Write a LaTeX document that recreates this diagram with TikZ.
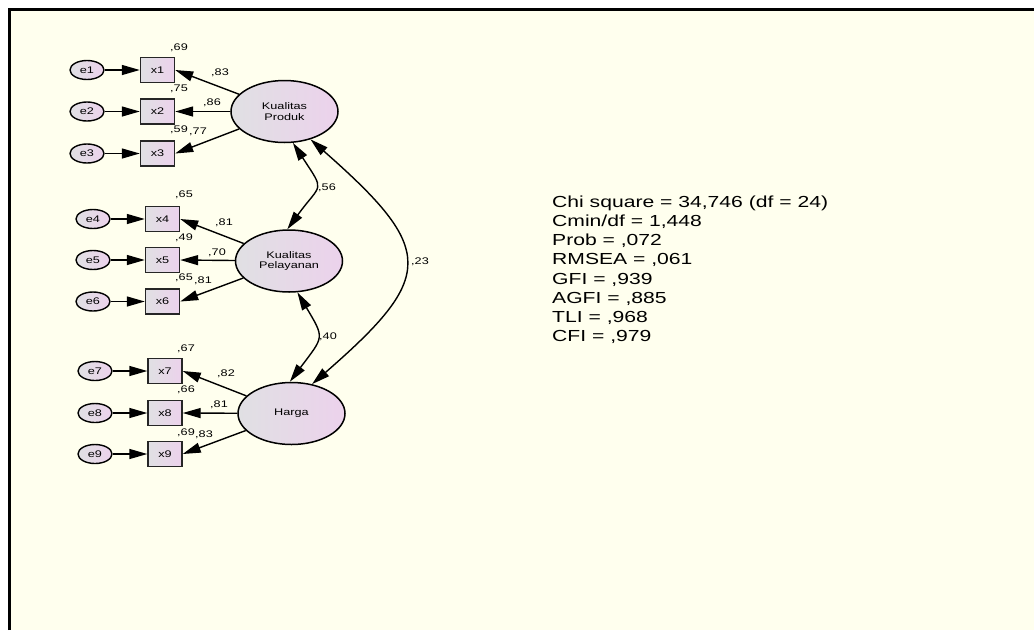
\documentclass[tikz,border=0pt]{standalone}
\usepackage{fontspec}
\usepackage{tikz}
\usetikzlibrary{arrows.meta,shapes.geometric}
\newfontfamily\amosfont{Liberation Sans}[FakeStretch=1.32]
\definecolor{cream}{RGB}{255,255,238}
\definecolor{semgray}{RGB}{224,224,227}
\definecolor{sempink}{RGB}{236,210,236}
\tikzset{
	lab/.style={font=\amosfont\fontsize{9.6}{10.4}\selectfont, inner sep=0pt},
	err/.style={lab, ellipse, draw, line width=1.4pt, minimum width=34pt, minimum height=19pt, left color=semgray, right color=sempink},
	obs/.style={lab, rectangle, draw=black!85, line width=1.4pt, minimum width=34pt, minimum height=25pt, left color=semgray, right color=sempink},
	lat/.style={lab, ellipse, draw, line width=1.5pt, minimum width=107pt, minimum height=62pt, align=center, left color=semgray, right color=sempink},
	arr/.style={-{Triangle[length=18pt,width=10pt]}, line width=1.4pt},
	cov/.style={{Triangle[length=18pt,width=10pt]}-{Triangle[length=18pt,width=10pt]}, line width=1.4pt},
	stat/.style={font=\amosfont\fontsize{16}{19.2}\selectfont, inner sep=0pt, align=left}
}
\begin{document}
\begin{tikzpicture}[x=1pt,y=-1pt]
	
	\useasboundingbox (0,0) rectangle (1034,630);
	\fill[white] (0,0) rectangle (1034,630);
	\fill[cream] (9.5,9.5) rectangle (1034,630);
	\draw[line width=2.2pt] (9.5,630) -- (9.5,9.5) -- (1034,9.5);
	
	% latent variables
	\node[lat] (prod) at (284.5,111.5) {Kualitas\\Produk};
	\node[lat] (pel) at (289,261) {Kualitas\\Pelayanan};
	\node[lat] (harga) at (291.5,413.5) {Harga};
	
	% indicators
	\node[obs] (x1) at (157.5,70) {x1};
	\node[obs] (x2) at (157.5,111.5) {x2};
	\node[obs] (x3) at (157.5,153.5) {x3};
	\node[obs] (x4) at (162.5,219) {x4};
	\node[obs] (x5) at (162.5,260) {x5};
	\node[obs] (x6) at (162.5,301.5) {x6};
	\node[obs] (x7) at (165,371) {x7};
	\node[obs] (x8) at (165,413) {x8};
	\node[obs] (x9) at (165,454) {x9};
	
	% errors
	\node[err] (e1) at (87,70) {e1};
	\node[err] (e2) at (87,111.5) {e2};
	\node[err] (e3) at (87,153.5) {e3};
	\node[err] (e4) at (93,219) {e4};
	\node[err] (e5) at (93,260) {e5};
	\node[err] (e6) at (93,301.5) {e6};
	\node[err] (e7) at (95,371) {e7};
	\node[err] (e8) at (95,413) {e8};
	\node[err] (e9) at (95,454) {e9};
	
	\draw[arr] (e1) -- (x1);
	\draw[arr] (e2) -- (x2);
	\draw[arr] (e3) -- (x3);
	\draw[arr] (e4) -- (x4);
	\draw[arr] (e5) -- (x5);
	\draw[arr] (e6) -- (x6);
	\draw[arr] (e7) -- (x7);
	\draw[arr] (e8) -- (x8);
	\draw[arr] (e9) -- (x9);
	
	\draw[arr] (prod) -- (x1.east);
	\draw[arr] (prod) -- (x2.east);
	\draw[arr] (prod) -- (x3.east);
	\draw[arr] (pel) -- (x4.east);
	\draw[arr] (pel) -- (x5.east);
	\draw[arr] (pel) -- (x6.east);
	\draw[arr] (harga) -- (x7.east);
	\draw[arr] (harga) -- (x8.east);
	\draw[arr] (harga) -- (x9.east);
	
	% covariances
	\draw[cov] (prod.-75) .. controls (325.5,192.7) and (321.5,182.3) .. (pel.93);
	\draw[cov] (pel.-75) .. controls (325,339) and (324,336) .. (harga.93);
	\draw[cov] (prod.-47) .. controls (435.7,249.6) and (435.7,276.4) .. (harga.55);
	
	% estimates
	\node[lab] (r1) at (179,48) {,69};
	\node[lab] (l1) at (220,73) {,83};
	\node[lab] (r2) at (179,89) {,75};
	\node[lab] (l2) at (212,103) {,86};
	\node[lab] (r3) at (179,130) {,59};
	\node[lab] (l3) at (198,132) {,77};
	\node[lab] (r4) at (184,195) {,65};
	\node[lab] (l4) at (224,223) {,81};
	\node[lab] (r5) at (184,238) {,49};
	\node[lab] (l5) at (217,253) {,70};
	\node[lab] (r6) at (184,278) {,65};
	\node[lab] (l6) at (203,281) {,81};
	\node[lab] (r7) at (186,349) {,67};
	\node[lab] (l7) at (226,374) {,82};
	\node[lab] (r8) at (186,390) {,66};
	\node[lab] (l8) at (219,405) {,81};
	\node[lab] (r9) at (186,433) {,69};
	\node[lab] (l9) at (204,435) {,83};
	
	\node[lab] (c12) at (327,188) {,56};
	\node[lab] (c23) at (328,337) {,40};
	\node[lab] (c13) at (420,262) {,23};
	
	% fit indices
	\node[stat, anchor=north west] (fit) at (552,195.5) {Chi square = 34,746 (df = 24)\\
		Cmin/df = 1,448\\
		Prob = ,072\\
		RMSEA = ,061\\
		GFI = ,939\\
		AGFI = ,885\\
		TLI = ,968\\
		CFI = ,979};
	
\end{tikzpicture}
\end{document}
